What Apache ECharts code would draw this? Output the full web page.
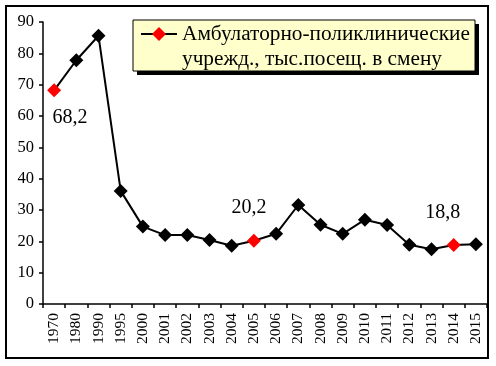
<!DOCTYPE html>
<html><head><meta charset="utf-8">
<script src="https://cdn.jsdelivr.net/npm/echarts@6/dist/echarts.min.js"></script>
<style>html,body{margin:0;padding:0;background:#fff}#c{width:496px;height:366px}</style>
</head><body><div id="c"></div>
<script>
const categories = ['1970','1980','1990','1995','2000','2001','2002','2003','2004','2005','2006','2007','2008','2009','2010','2011','2012','2013','2014','2015'];
const values = [68.2,77.8,85.6,36.1,24.7,22.0,22.0,20.4,18.6,20.2,22.4,31.6,25.3,22.4,26.9,25.2,18.9,17.5,18.8,19.1];
const highlighted = ['1970','2005','2014'];
const labelOffsets = {'1970':[16,27],'2005':[-5,-33],'2014':[-11,-32]};
const seriesName = 'Амбулаторно-поликлинические учрежд., тыс.посещ. в смену';
const legendLines = ['Амбулаторно-поликлинические','учрежд., тыс.посещ. в смену'];
const yTicks = [0,10,20,30,40,50,60,70,80,90];

const serif = '"Liberation Serif","Times New Roman",serif';
const data = values.map((v,i)=>{
  const c = categories[i];
  if (highlighted.includes(c)) {
    return {value:v, itemStyle:{color:'#ff0000'},
      label:{show:true, position:'inside', offset:labelOffsets[c],
        formatter:()=>String(v).replace('.',','),
        fontFamily:serif, fontSize:20, color:'#000'}};
  }
  return {value:v};
});

const chart = echarts.init(document.getElementById('c'), null, {renderer:'canvas'});
chart.setOption({
  animation:false,
  grid:{left:43, right:9, top:22, bottom:62, containLabel:false},
  xAxis:{type:'category', data:categories, boundaryGap:true,
    axisLine:{lineStyle:{color:'#000', width:1.5}},
    axisTick:{show:true, length:4, inside:false, alignWithLabel:false, lineStyle:{color:'#000', width:1.5}},
    axisLabel:{rotate:90, margin:9, fontFamily:serif, fontSize:15.5, color:'#000', interval:0},
    splitLine:{show:false}},
  yAxis:{type:'value', min:yTicks[0], max:yTicks[yTicks.length-1], interval:10,
    axisLine:{show:true, lineStyle:{color:'#000', width:1.5}},
    axisTick:{show:true, length:4, lineStyle:{color:'#000', width:1.5}},
    axisLabel:{margin:9, fontFamily:serif, fontSize:16.5, color:'#000'},
    splitLine:{show:false}},
  series:[{name:seriesName, type:'line', data:data,
    symbol:'diamond', symbolSize:14,
    lineStyle:{color:'#000', width:2},
    itemStyle:{color:'#000'}}],
  graphic:[
    {type:'rect', shape:{x:6, y:6, width:482, height:352}, style:{fill:'none', stroke:'#000', lineWidth:2}, z:100},
    {type:'rect', shape:{x:137, y:24, width:342, height:51}, style:{fill:'#000'}, z:100},
    {type:'rect', shape:{x:133, y:20, width:342, height:51}, style:{fill:'#ffffcc', stroke:'#000', lineWidth:1}, z:101},
    {type:'line', shape:{x1:141, y1:34, x2:177, y2:34}, style:{stroke:'#000', lineWidth:2}, z:102},
    {type:'polygon', shape:{points:[[159,27],[166,34],[159,41],[152,34]]}, style:{fill:'#ff0000'}, z:103},
    {type:'text', x:182, y:34, style:{text:legendLines[0], font:'21.3px '+serif, fill:'#000', textVerticalAlign:'middle'}, z:103},
    {type:'text', x:182, y:59, style:{text:legendLines[1], font:'21.3px '+serif, fill:'#000', textVerticalAlign:'middle'}, z:103}
  ]
});
</script></body></html>
